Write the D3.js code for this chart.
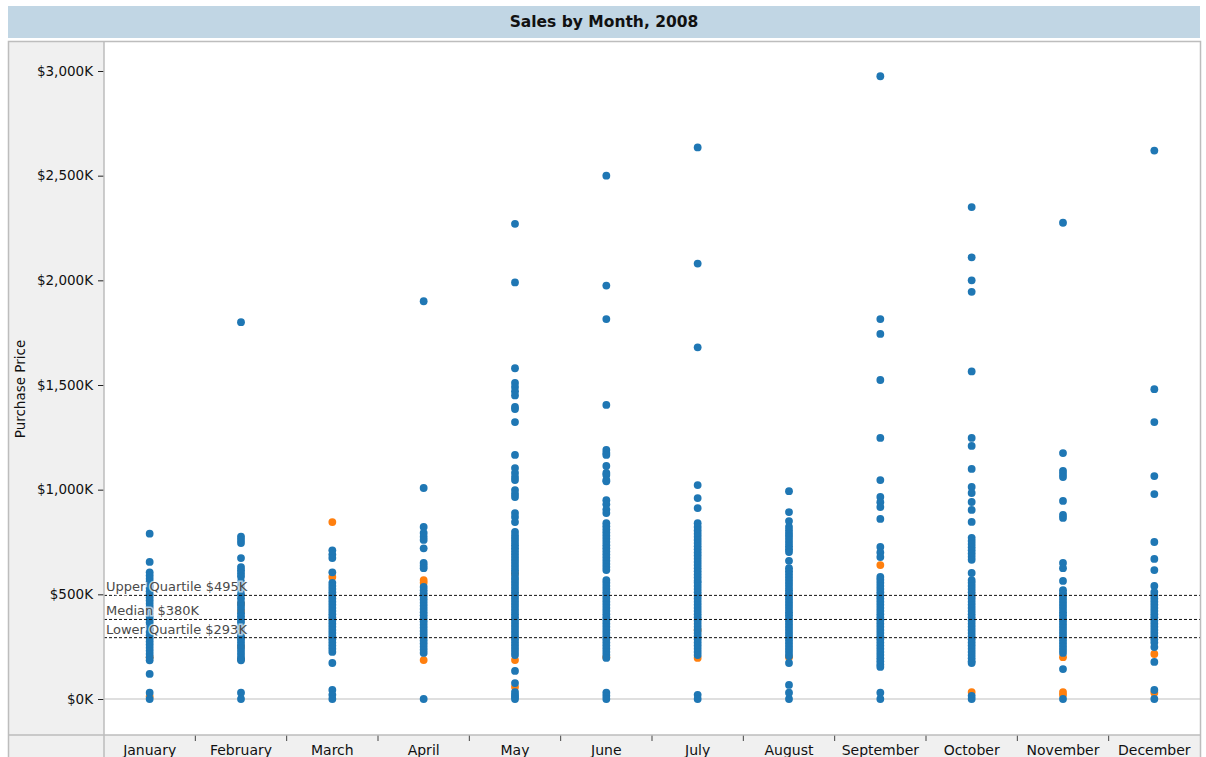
<!DOCTYPE html>
<html>
<head>
<meta charset="utf-8">
<script src="https://cdn.jsdelivr.net/npm/d3@7"></script>
<style>
  body { margin: 0; background: #fff; }
  text { font-family: "DejaVu Sans", Verdana, sans-serif; }
</style>
</head>
<body>
<svg id="chart" width="1206" height="757"></svg>
<script>
// month categories
var months = ["January", "February", "March", "April", "May", "June",
    "July", "August", "September", "October", "November", "December"];

// purchase prices in $K (blue = main series)
var blueValues = [
    [790, 655, 605, 590, 575, 560, 545, 530, 515, 500, 485, 470, 455, 440, 425, 410, 395, 380, 365, 350, 335, 320, 305, 290, 275, 260, 245, 230, 215, 200, 185, 120, 30, 0],
    [1800, 775, 760, 745, 673, 630, 615, 600, 585, 560, 540, 520, 500, 480, 460, 445, 430, 410, 395, 380, 365, 345, 330, 315, 300, 285, 270, 255, 240, 225, 210, 195, 185, 30, 0],
    [710, 690, 673, 605, 555, 540, 525, 510, 495, 480, 465, 450, 435, 420, 405, 390, 375, 360, 345, 330, 315, 300, 285, 270, 255, 240, 225, 172, 43, 20, 0],
    [1900, 1008, 822, 793, 775, 760, 720, 650, 637, 625, 535, 520, 505, 490, 475, 460, 445, 430, 415, 400, 385, 370, 355, 340, 325, 310, 295, 280, 265, 250, 235, 220, 0],
    [2270, 1990, 1580, 1510, 1490, 1470, 1450, 1395, 1385, 1323, 1166, 1103, 1080, 1060, 1046, 998, 980, 965, 888, 870, 845, 798, 780, 765, 750, 735, 720, 705, 690, 675, 660, 645, 630, 615, 600, 583, 570, 555, 540, 525, 510, 495, 480, 465, 450, 435, 420, 405, 390, 375, 360, 345, 330, 315, 300, 285, 270, 255, 240, 225, 210, 134, 76, 33, 20, 10, 0],
    [2500, 1975, 1815, 1405, 1190, 1175, 1166, 1113, 1080, 1070, 1046, 1040, 950, 930, 905, 888, 840, 825, 810, 795, 780, 765, 750, 735, 720, 705, 690, 675, 660, 645, 630, 616, 568, 555, 540, 525, 510, 495, 480, 465, 450, 435, 420, 405, 390, 375, 360, 345, 330, 315, 300, 285, 270, 255, 240, 225, 210, 196, 30, 15, 0],
    [2635, 2080, 1680, 1022, 960, 912, 840, 822, 805, 790, 775, 760, 745, 730, 715, 700, 685, 670, 655, 640, 625, 610, 595, 580, 565, 555, 540, 525, 510, 495, 480, 465, 450, 435, 420, 405, 390, 375, 360, 345, 330, 315, 300, 285, 270, 255, 240, 225, 210, 20, 0],
    [993, 893, 850, 822, 805, 790, 775, 760, 745, 730, 715, 702, 660, 625, 610, 595, 580, 565, 550, 535, 520, 505, 490, 475, 460, 445, 430, 415, 400, 385, 370, 355, 340, 325, 310, 295, 280, 265, 250, 235, 220, 205, 172, 67, 30, 0],
    [2975, 1815, 1744, 1524, 1247, 1046, 965, 940, 917, 860, 726, 700, 678, 583, 570, 555, 540, 525, 510, 495, 480, 465, 450, 435, 420, 405, 390, 375, 360, 345, 330, 315, 300, 285, 270, 255, 240, 225, 210, 195, 180, 165, 153, 30, 0],
    [2350, 2110, 2000, 1945, 1565, 1247, 1209, 1099, 1013, 984, 941, 903, 846, 770, 755, 740, 725, 710, 695, 680, 665, 602, 568, 555, 540, 525, 510, 495, 480, 465, 450, 435, 420, 405, 390, 375, 360, 345, 330, 315, 300, 285, 270, 255, 240, 225, 210, 195, 180, 172, 15, 0],
    [2275, 1175, 1090, 1075, 1060, 946, 879, 865, 650, 625, 564, 520, 505, 490, 475, 460, 445, 430, 415, 400, 385, 370, 355, 340, 325, 310, 295, 280, 265, 250, 235, 220, 143, 0],
    [2620, 1480, 1323, 1065, 979, 750, 669, 616, 540, 511, 495, 480, 465, 450, 435, 420, 405, 390, 375, 360, 345, 330, 315, 300, 285, 270, 248, 177, 43, 0]
];

// second (orange) series, $K
var orangeValues = [
    [12, 200],
    [455, 420, 300, 250, 190],
    [845, 583],
    [568, 555, 186],
    [186, 57, 600],
    [200],
    [196, 330],
    [200],
    [640],
    [33],
    [200, 33, 20],
    [215, 30]
];

var yTicks = [0, 500, 1000, 1500, 2000, 2500, 3000];

// reference lines
var refLines = [
    {label: "Upper Quartile $495K", value: 495},
    {label: "Median $380K", value: 380},
    {label: "Lower Quartile $293K", value: 293}
];

var svg = d3.select("#chart"),
    frame = {left: 8, right: 1200, top: 41, bottom: 757},
    plot = {left: 104, right: 1200, top: 42, bottom: 735};

// title band
svg.append("rect")
    .attr("x", 8).attr("y", 6)
    .attr("width", 1192).attr("height", 32)
    .attr("fill", "#c1d6e4");
svg.append("text")
    .attr("x", 604).attr("y", 27)
    .attr("text-anchor", "middle")
    .attr("font-size", 15.5)
    .attr("font-weight", "bold")
    .attr("fill", "#111")
    .text("Sales by Month, 2008");

// gray header panels
svg.append("rect")
    .attr("x", frame.left).attr("y", frame.top)
    .attr("width", frame.right - frame.left).attr("height", frame.bottom - frame.top)
    .attr("fill", "#f0f0f0");
svg.append("rect")
    .attr("x", plot.left).attr("y", plot.top)
    .attr("width", plot.right - plot.left).attr("height", plot.bottom - plot.top)
    .attr("fill", "#fff");

var x = d3.scaleBand()
    .domain(months)
    .range([plot.left, plot.right]);

var y = d3.scaleLinear()
    .domain([0, 3000])
    .range([699, 71]);

// zero line
svg.append("line")
    .attr("x1", plot.left).attr("x2", plot.right)
    .attr("y1", y(0)).attr("y2", y(0))
    .attr("stroke", "#d4d4d4").attr("stroke-width", 1.5);

// y axis
var yAxis = svg.append("g")
    .attr("transform", "translate(" + plot.left + ",0)")
    .call(d3.axisLeft(y)
        .tickValues(yTicks)
        .tickSize(6)
        .tickPadding(5)
        .tickFormat(function(d) { return "$" + d3.format(",d")(d) + "K"; }));
yAxis.select(".domain").remove();
yAxis.selectAll(".tick line").attr("stroke", "#222");
yAxis.selectAll(".tick text")
    .attr("font-size", 13.5)
    .attr("fill", "#111")
    .style("font-family", "DejaVu Sans, sans-serif");

svg.append("text")
    .attr("transform", "translate(25,389) rotate(-90)")
    .attr("text-anchor", "middle")
    .attr("font-size", 13.5)
    .attr("fill", "#111")
    .text("Purchase Price");

// x axis (ticks at band boundaries)
var xAxisG = svg.append("g");
xAxisG.selectAll("line.bnd")
    .data(months.slice(1))
    .enter().append("line")
    .attr("x1", function(d) { return x(d); })
    .attr("x2", function(d) { return x(d); })
    .attr("y1", plot.bottom).attr("y2", plot.bottom + 6)
    .attr("stroke", "#444");
xAxisG.selectAll("text")
    .data(months)
    .enter().append("text")
    .attr("x", function(d) { return x(d) + x.bandwidth() / 2; })
    .attr("y", 755)
    .attr("text-anchor", "middle")
    .attr("font-size", 14)
    .attr("fill", "#111")
    .text(function(d) { return d; });

// points
var points = [];
months.forEach(function(m, i) {
    orangeValues[i].forEach(function(v) { points.push({month: m, value: v, c: "#ff7f0e"}); });
});
months.forEach(function(m, i) {
    blueValues[i].forEach(function(v) { points.push({month: m, value: v, c: "#1f77b4"}); });
});

svg.append("g")
    .selectAll("circle")
    .data(points)
    .enter().append("circle")
    .attr("cx", function(d) { return x(d.month) + x.bandwidth() / 2; })
    .attr("cy", function(d) { return y(d.value); })
    .attr("r", 3.9)
    .attr("fill", function(d) { return d.c; });

// quartile reference lines
var ref = svg.append("g");
ref.selectAll("line")
    .data(refLines)
    .enter().append("line")
    .attr("x1", plot.left).attr("x2", plot.right)
    .attr("y1", function(d) { return y(d.value); })
    .attr("y2", function(d) { return y(d.value); })
    .attr("stroke", "#111")
    .attr("stroke-dasharray", "3,2");
ref.selectAll("text")
    .data(refLines)
    .enter().append("text")
    .attr("x", plot.left + 2)
    .attr("y", function(d) { return y(d.value) - 4; })
    .attr("font-size", 13)
    .attr("fill", "#4a4a4a")
    .attr("stroke", "rgba(255,255,255,0.65)")
    .attr("stroke-width", 3)
    .attr("paint-order", "stroke")
    .text(function(d) { return d.label; });

// frame borders
svg.append("line")
    .attr("x1", plot.left).attr("x2", plot.left)
    .attr("y1", frame.top).attr("y2", frame.bottom)
    .attr("stroke", "#bdbdbd").attr("stroke-width", 1.5);
svg.append("line")
    .attr("x1", frame.left).attr("x2", frame.right)
    .attr("y1", plot.bottom).attr("y2", plot.bottom)
    .attr("stroke", "#bdbdbd").attr("stroke-width", 1.5);
svg.append("rect")
    .attr("x", frame.left + 0.5).attr("y", frame.top + 0.5)
    .attr("width", frame.right - frame.left).attr("height", frame.bottom - frame.top + 5)
    .attr("fill", "none")
    .attr("stroke", "#bdbdbd").attr("stroke-width", 1.5);
</script>
</body>
</html>
